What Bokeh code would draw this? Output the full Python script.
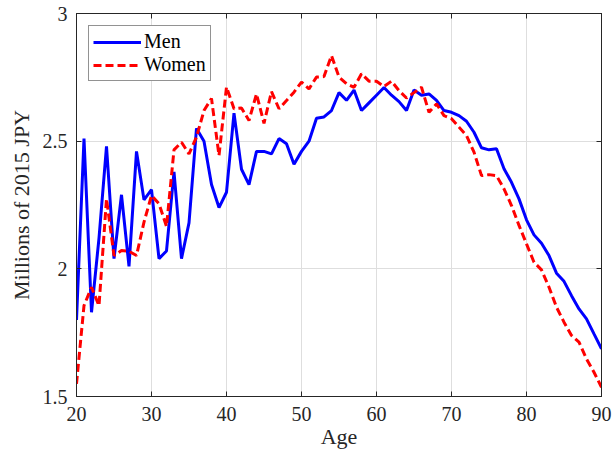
from bokeh.plotting import figure
from bokeh.models import LinearAxis, Legend, LegendItem, FixedTicker, Range1d
from bokeh.embed import file_html
from bokeh.resources import INLINE

ages = list(range(20, 91))
men = [1.80, 2.51, 1.83, 2.12, 2.48, 2.04, 2.29, 2.01, 2.46, 2.27,
       2.31, 2.04, 2.07, 2.38, 2.04, 2.18, 2.55, 2.50, 2.33, 2.24,
       2.30, 2.61, 2.39, 2.33, 2.46, 2.46, 2.45, 2.51, 2.49, 2.41,
       2.46, 2.50, 2.59, 2.595, 2.62, 2.69, 2.66, 2.70, 2.62, 2.65,
       2.68, 2.71, 2.68, 2.655, 2.62, 2.70, 2.68, 2.685, 2.66, 2.62,
       2.613, 2.60, 2.578, 2.535, 2.474, 2.466, 2.47, 2.392, 2.339, 2.274,
       2.192, 2.133, 2.10, 2.052, 1.983, 1.951, 1.895, 1.843, 1.804, 1.745,
       1.687]
women = [1.55, 1.856, 1.928, 1.856, 2.274, 2.052, 2.072, 2.069, 2.052, 2.183,
         2.287, 2.255, 2.166, 2.466, 2.496, 2.45, 2.516, 2.62, 2.667, 2.444,
         2.712, 2.627, 2.63, 2.581, 2.685, 2.57, 2.694, 2.627, 2.659, 2.692,
         2.731, 2.705, 2.751, 2.753, 2.835, 2.751, 2.725, 2.711, 2.764, 2.735,
         2.735, 2.714, 2.735, 2.698, 2.669, 2.69, 2.711, 2.613, 2.646, 2.60,
         2.588, 2.555, 2.522, 2.457, 2.365, 2.369, 2.365, 2.313, 2.248, 2.17,
         2.098, 2.026, 1.996, 1.928, 1.85, 1.791, 1.739, 1.713, 1.647, 1.595,
         1.536]
x_ticks = [20, 30, 40, 50, 60, 70, 80, 90]
y_ticks = [1.5, 2, 2.5, 3]
y_tick_labels = {1.5: "1.5", 2: "2", 2.5: "2.5", 3: "3"}

FONT = "Liberation Serif"
AX = "#262626"

p = figure(width=613, height=457, output_backend="svg", toolbar_location=None,
           x_range=Range1d(20, 90), y_range=Range1d(1.5, 3),
           min_border_left=76, min_border_right=12, min_border_top=13,
           min_border_bottom=61)
p.background_fill_color = "white"
p.border_fill_color = "white"
p.outline_line_color = AX
p.outline_line_width = 1

for ax in [p.xaxis[0], p.yaxis[0]]:
    ax.major_tick_in = 5
    ax.major_tick_out = 0
    ax.minor_tick_in = 0
    ax.minor_tick_out = 0
    ax.axis_line_color = AX
    ax.major_tick_line_color = AX
    ax.major_label_text_font = FONT
    ax.major_label_text_font_size = "20px"
    ax.major_label_text_color = AX
    ax.axis_label_text_font = FONT
    ax.axis_label_text_font_size = "22px"
    ax.axis_label_text_font_style = "normal"
    ax.axis_label_text_color = AX

p.xaxis[0].ticker = FixedTicker(ticks=x_ticks)
p.yaxis[0].ticker = FixedTicker(ticks=y_ticks)
p.yaxis[0].major_label_overrides = {k: v for k, v in y_tick_labels.items()}
p.xaxis[0].axis_label = "Age"
p.yaxis[0].axis_label = "Millions of 2015 JPY"
p.xaxis[0].major_label_standoff = 10
p.yaxis[0].major_label_standoff = 9
p.xaxis[0].axis_label_standoff = 0
p.yaxis[0].axis_label_standoff = 6

# box ticks on right and top (no labels)
r_ax = LinearAxis(ticker=FixedTicker(ticks=y_ticks))
r_ax.major_label_overrides = {t: "" for t in y_ticks}
t_ax = LinearAxis(ticker=FixedTicker(ticks=x_ticks))
t_ax.major_label_overrides = {t: "" for t in x_ticks}
for ax in [r_ax, t_ax]:
    ax.major_tick_in = 5
    ax.major_tick_out = 0
    ax.minor_tick_in = 0
    ax.minor_tick_out = 0
    ax.axis_line_color = AX
    ax.major_tick_line_color = AX
    ax.major_label_standoff = 0
p.add_layout(r_ax, "right")
p.add_layout(t_ax, "above")

p.xgrid.ticker = FixedTicker(ticks=x_ticks)
p.ygrid.ticker = FixedTicker(ticks=y_ticks)
p.grid.grid_line_color = "#dedede"
p.grid.grid_line_width = 1

r_men = p.line(ages, men, line_color="#0000ff", line_width=3)
r_women = p.line(ages, women, line_color="#ff0000", line_width=3, line_dash="8 4")

legend = Legend(items=[LegendItem(label="Men", renderers=[r_men]),
                       LegendItem(label="Women", renderers=[r_women])],
                location="top_left")
legend.margin = 12
legend.padding = 4
legend.spacing = 0
legend.glyph_width = 48
legend.glyph_height = 20
legend.label_height = 20
legend.label_standoff = 3
legend.label_text_font = FONT
legend.label_text_font_size = "20px"
legend.label_text_color = "black"
legend.border_line_color = AX
legend.border_line_width = 1
legend.background_fill_color = "white"
legend.background_fill_alpha = 1
p.add_layout(legend)

open("out.html", "w").write(file_html(p, INLINE))
